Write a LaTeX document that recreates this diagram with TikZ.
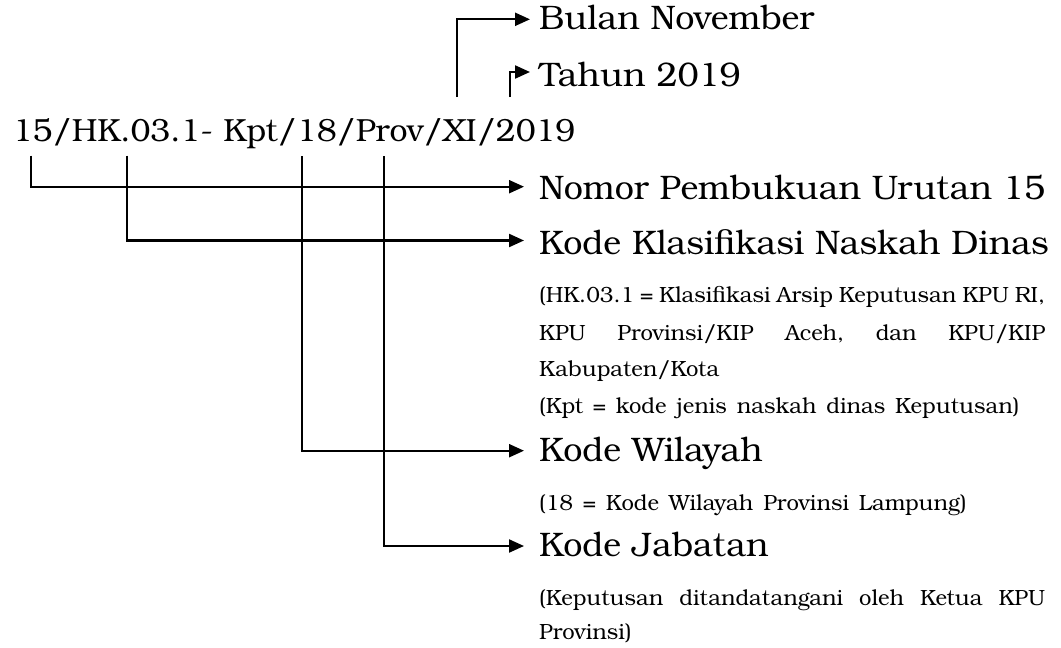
\documentclass[tikz,border=0pt]{standalone}
\usepackage{fontspec}
\setmainfont{TeX Gyre Bonum}
\newfontfamily\notefont{TeX Gyre Bonum}[WordSpace=1.4]
\usetikzlibrary{arrows.meta}
\newcommand{\gap}{\hfill}
\begin{document}
\begin{tikzpicture}[x=1pt,y=-1pt,
  conn/.style={line width=2.2pt,-{Triangle[length=15pt,width=13pt]}},
  codetext/.style={anchor=base west,inner sep=0pt,font=\fontsize{32}{38}\selectfont},
  big/.style={anchor=base west,inner sep=0pt,font=\fontsize{34}{40}\selectfont},
  small/.style={anchor=base west,inner sep=0pt,font=\notefont\fontsize{22}{37}\selectfont}]
\useasboundingbox (0,0) rectangle (1061,648);
% code
\node[codetext] (code) at (12.7,141.5) {15/HK.03.1- Kpt/18/Prov/XI/2019};
% labels
\node[big] (bulan) at (539,29) {Bulan November};
\node[big] (tahun) at (539,86) {Tahun 2019};
\node[big] (nomor) at (539,199) {Nomor Pembukuan Urutan 15};
\node[big] (klas) at (539,254) {Kode Klasifikasi Naskah Dinas};
\node[small] (hk1) at (539,302.7) {\makebox[506pt][l]{(HK.03.1\gap=\gap Klasifikasi\gap Arsip\gap Keputusan\gap KPU\gap RI,}};
\node[small] (hk2) at (539,340) {\makebox[506pt][l]{KPU\gap Provinsi/KIP\gap Aceh,\gap dan\gap KPU/KIP}};
\node[small] (hk3) at (539,376.7) {Kabupaten/Kota};
\node[small] (kpt) at (539,413.3) {(Kpt = kode jenis naskah dinas Keputusan)};
\node[big] (wil) at (539,461) {Kode Wilayah};
\node[small] (wil1) at (539,510) {(18 = Kode Wilayah Provinsi Lampung)};
\node[big] (jab) at (539,556.3) {Kode Jabatan};
\node[small] (jab1) at (539,605.3) {\makebox[506pt][l]{(Keputusan\gap ditandatangani\gap oleh\gap Ketua\gap KPU}};
\node[small] (jab2) at (539,639.7) {Provinsi)};
% start points under / above the code
\coordinate (s15) at (30.7,155.5);
\coordinate (sHK) at (126.7,155.5);
\coordinate (s18) at (301.7,156);
\coordinate (sProv) at (384,156);
\coordinate (sXI) at (457,97);
\coordinate (s2019) at (510,97);
% arrow tips
\coordinate (tBulan) at (530,19.3);
\coordinate (tTahun) at (530,72);
\coordinate (tNomor) at (524,186.7);
\coordinate (tKlas) at (524,240.5);
\coordinate (tWil) at (524,450.7);
\coordinate (tJab) at (524,546);
% connectors
\draw[conn] (sXI) |- (tBulan);
\draw[conn] (s2019) |- (tTahun);
\draw[conn] (s15) |- (tNomor);
\draw[conn] (sHK) |- (tKlas);
\draw[conn] (s18) |- (tWil);
\draw[conn] (sProv) |- (tJab);
\end{tikzpicture}
\end{document}
